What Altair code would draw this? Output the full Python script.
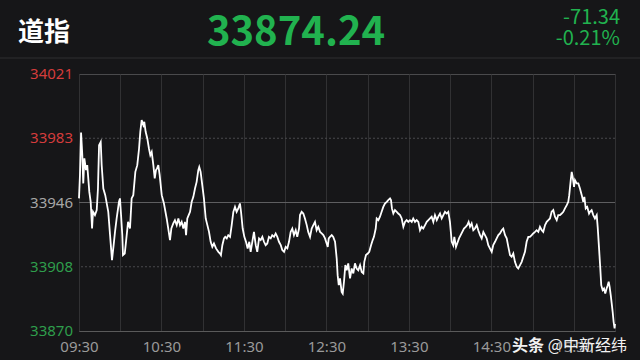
import altair as alt
import pandas as pd

# ---- data ----
prev_close = 33945.58
last_price = "33874.24"
change_pts = "-71.34"
change_pct = "-0.21%"

minutes_a = [0, 0.7, 1.5, 2.4, 3.1, 3.9, 5.1, 6.0, 7.5, 8.5,
             9.5, 10.2, 11.6, 12.9, 13.8, 14.6, 15.8, 16.5, 17.7, 19.1,
             21.3, 22.6, 24.0, 25.2, 26.2, 27.4, 29.1, 29.8, 30.6, 31.5,
             32.0, 33.3, 34.2, 35.7, 37.1, 38.3, 39.5, 41.0, 42.4, 43.7,
             44.6, 45.6, 46.8, 47.5, 48.5, 49.7, 50.9, 51.9, 52.9, 54.1,
             55.1, 56.0, 56.8, 57.7, 58.7, 60.2, 61.8, 63.8, 65.3, 66.2,
             67.2, 68.6, 69.8, 71.1, 72.3, 73.5, 74.7, 75.9, 77.1, 77.9,
             78.8, 79.8, 80.8, 82.0, 83.2, 84.4, 85.6, 86.8, 87.5, 88.5,
             89.7, 90.9, 92.2, 93.4, 94.6, 95.8, 97.0, 98.2, 99.7, 101.4,
             102.6]
values_a = [33948.0, 33961.7, 33986.7, 33973.4, 33956.8, 33971.5, 33964.6, 33967.5, 33951.8, 33946.0,
            33930.3, 33940.1, 33938.2, 33941.1, 33953.8, 33979.3, 33981.2, 33967.5, 33953.8, 33949.9,
            33940.1, 33926.4, 33911.7, 33920.5, 33928.3, 33936.2, 33946.0, 33948.0, 33938.2, 33926.4,
            33914.7, 33915.6, 33922.5, 33934.2, 33930.3, 33948.0, 33949.9, 33963.6, 33967.5, 33977.3,
            33987.1, 33994.0, 33991.0, 33993.0, 33987.1, 33983.2, 33977.3, 33973.4, 33975.3, 33967.5,
            33959.7, 33964.6, 33965.6, 33967.5, 33961.7, 33949.9, 33945.0, 33936.2, 33928.3, 33923.5,
            33930.3, 33933.3, 33935.2, 33932.3, 33936.2, 33932.3, 33934.2, 33930.3, 33934.2, 33926.4,
            33936.2, 33938.2, 33940.1, 33946.0, 33948.9, 33953.8, 33957.7, 33964.6, 33966.5, 33963.6,
            33955.8, 33948.0, 33936.2, 33932.3, 33928.3, 33922.5, 33919.5, 33921.5, 33918.6, 33916.6,
            33915.6]

minutes_b = [103.3, 104.3, 105.5, 106.4, 107.5, 108.6, 109.9, 111.1, 112.3, 113.5,
             114.7, 115.9, 117.1, 117.9, 119.1, 120.3, 121.5, 122.7, 123.9, 124.9,
             126.1, 127.3, 128.6, 129.7, 131.0, 132.2, 133.4, 134.6, 135.8, 137.0,
             138.2, 139.5, 140.6, 141.9, 143.1, 144.3, 145.5, 146.8, 147.9, 149.2,
             150.4, 151.6, 152.8, 154.0, 155.2, 156.4, 157.7, 158.8, 160.1, 160.8,
             162.0, 163.2, 164.4, 165.7, 166.8, 168.1, 169.3, 170.5, 171.7, 172.9,
             174.1, 175.4, 176.6, 177.8, 179.0, 180.2, 181.0, 181.7, 182.6, 183.9,
             185.0, 186.3, 187.5, 188.2, 189.0, 189.9, 191.1, 191.9, 192.8, 193.8,
             194.8, 195.9, 197.2, 198.4, 199.6, 200.8, 202.0, 203.2, 204.5, 205.7,
             206.9, 207.6, 208.8, 210.1, 211.2, 212.5, 213.7, 214.6, 215.9, 216.6,
             217.8, 219.0, 220.2, 221.4, 222.6, 223.9, 225.0, 226.3, 227.0, 227.7,
             228.7, 229.9, 231.2, 232.3, 233.6, 234.8, 236.0, 237.2, 238.4, 239.6,
             240.8, 242.1, 243.2, 244.5, 245.7, 246.9]
values_b = [33914.7, 33920.5, 33924.5, 33925.4, 33924.5, 33926.4, 33925.4, 33932.3, 33940.1, 33943.0,
            33940.1, 33942.1, 33945.0, 33940.1, 33930.3, 33925.4, 33922.5, 33918.6, 33922.5, 33916.6,
            33922.5, 33928.3, 33920.5, 33916.6, 33924.5, 33923.5, 33925.4, 33922.5, 33920.5, 33921.5,
            33925.4, 33924.5, 33926.4, 33925.4, 33927.4, 33925.4, 33922.5, 33920.5, 33917.6, 33916.6,
            33919.5, 33918.6, 33922.5, 33928.3, 33930.3, 33926.4, 33929.3, 33925.4, 33930.3, 33938.2,
            33940.1, 33939.1, 33936.2, 33932.3, 33928.3, 33925.4, 33930.3, 33932.3, 33934.2, 33929.3,
            33931.3, 33928.3, 33927.4, 33926.4, 33924.5, 33921.5, 33919.5, 33924.5, 33925.4, 33926.4,
            33925.4, 33922.5, 33912.7, 33902.9, 33897.0, 33901.0, 33893.1, 33892.1, 33899.0, 33908.8,
            33905.8, 33909.8, 33901.0, 33906.8, 33903.9, 33909.8, 33906.8, 33905.8, 33908.8, 33904.8,
            33903.9, 33910.7, 33914.7, 33915.6, 33916.6, 33920.5, 33923.5, 33925.4, 33930.3, 33936.2,
            33935.2, 33937.2, 33940.1, 33943.0, 33945.0, 33946.0, 33947.0, 33948.0, 33947.0, 33942.1,
            33939.1, 33941.1, 33940.1, 33939.1, 33938.2, 33936.2, 33931.3, 33934.2, 33935.2, 33934.2,
            33935.2, 33934.2, 33936.2, 33934.2, 33935.2, 33934.2]

minutes_c = [248.1, 249.3, 250.5, 251.8, 253.0, 254.2, 255.4, 256.6, 257.8, 259.0,
             260.3, 261.4, 262.7, 263.9, 265.1, 266.3, 267.5, 268.7, 269.9, 271.2,
             272.3, 273.1, 274.3, 275.2, 276.5, 277.7, 278.9, 280.1, 281.4, 282.5,
             283.5, 284.5, 285.7, 286.9, 288.1, 289.4, 290.5, 291.8, 293.0, 294.2,
             295.4, 296.6, 297.8, 299.0, 300.3, 301.4, 302.7, 303.9, 305.1, 306.3,
             307.6, 308.7, 310.0, 311.2, 312.4, 313.6, 314.8, 316.0, 317.2, 318.5,
             319.6, 320.9, 322.1, 323.3, 324.5, 325.7, 326.9, 328.1, 329.4, 330.5,
             331.8, 333.0, 334.2, 335.4, 336.7, 337.8, 339.1, 340.3, 341.5, 342.7,
             343.9, 345.1, 346.3, 347.6, 348.7, 350.0, 351.2, 352.4, 353.6, 354.9,
             356.0, 356.7, 357.8, 358.5, 359.2, 360.2, 360.9, 362.1, 363.3, 364.5,
             365.8, 366.9, 367.7, 368.7, 369.8, 371.1, 371.8, 373.0, 374.2, 375.4,
             376.7, 377.4, 378.4, 379.3, 380.0, 381.0, 382.0, 382.9, 383.9, 384.7,
             385.4, 386.1, 386.9, 387.6, 388.3, 389.0, 389.7, 390]
values_c = [33929.3, 33931.3, 33930.3, 33932.3, 33934.2, 33935.2, 33936.2, 33937.2, 33934.2, 33938.2,
            33935.2, 33937.2, 33939.1, 33936.2, 33938.2, 33940.1, 33939.1, 33940.1, 33934.2, 33922.5,
            33920.5, 33925.4, 33919.5, 33921.5, 33924.5, 33926.4, 33928.3, 33930.3, 33931.3, 33932.3,
            33934.2, 33931.3, 33933.3, 33929.3, 33930.3, 33932.3, 33929.3, 33926.4, 33924.5, 33928.3,
            33926.4, 33924.5, 33920.5, 33918.6, 33916.6, 33920.5, 33922.5, 33924.5, 33926.4, 33927.4,
            33929.3, 33930.3, 33926.4, 33924.5, 33919.5, 33914.7, 33913.7, 33915.6, 33910.7, 33907.8,
            33906.8, 33908.8, 33910.7, 33913.7, 33916.6, 33922.5, 33925.4, 33925.4, 33926.4, 33927.4,
            33928.3, 33929.3, 33928.3, 33931.3, 33929.3, 33928.3, 33932.3, 33934.2, 33935.2, 33936.2,
            33940.1, 33941.1, 33937.2, 33935.2, 33938.2, 33938.2, 33939.1, 33940.1, 33942.1, 33944.0,
            33946.0, 33949.9, 33958.7, 33963.6, 33960.7, 33954.8, 33958.7, 33956.8, 33956.8, 33953.8,
            33949.9, 33946.0, 33948.9, 33942.1, 33943.0, 33939.1, 33940.1, 33941.1, 33938.2, 33936.2,
            33938.2, 33931.3, 33918.6, 33906.8, 33897.0, 33894.1, 33895.1, 33892.1, 33895.1, 33897.0,
            33899.0, 33896.0, 33891.2, 33886.3, 33881.3, 33875.5, 33871.6, 33874.24]

y_ticks = [33870.08, 33907.83, 33945.58, 33983.33, 34021.08]
y_tick_labels = ["33870", "33908", "33946", "33983", "34021"]
y_tick_colors = ["#2f9e4c", "#2f9e4c", "#a6a6a6", "#d43c3c", "#d43c3c"]

x_grid_minutes = [0, 30, 60, 90, 120, 150, 180, 210, 240, 270, 300, 330, 360, 390]
x_label_minutes = [0, 60, 120, 180, 240, 300, 360]
x_labels = ["09:30", "10:30", "11:30", "12:30", "13:30", "14:30", "15:30"]

# ---- build ----
minutes = minutes_a + minutes_b + minutes_c
values = values_a + values_b + values_c
pairs = list(zip(minutes, values))
df = pd.DataFrame(pairs, columns=["t", "v"])

W, H = 536, 257
BG = "#161618"
FONT = "Noto Sans"
CJK = "Noto Sans CJK SC"
GREEN = "#21b24f"

yscale = alt.Scale(domain=[y_ticks[0], y_ticks[-1]], nice=False, zero=False)
xscale = alt.Scale(domain=[0, 390], nice=False)

label_map = "{" + ",".join(f"'{m}':'{l}'" for m, l in zip(x_label_minutes, x_labels)) + "}"
xaxis = alt.Axis(values=x_grid_minutes, labelExpr=f"{label_map}[''+datum.value] || ''",
                 grid=True, gridColor="#313133", gridWidth=1, ticks=False,
                 domainColor="#5a5a5a", labelColor="#9a9a9a", labelFontSize=15,
                 labelFont=FONT, labelPadding=8, labelFlush=False, labelOverlap=False,
                 title=None)

line = alt.Chart(df).mark_line(color="#ffffff", strokeWidth=1.8, interpolate="linear").encode(
    x=alt.X("t:Q", scale=xscale, axis=xaxis),
    y=alt.Y("v:Q", scale=yscale, axis=None),
)

ydf = pd.DataFrame({"v": y_ticks, "lab": y_tick_labels, "col": y_tick_colors})
inner = ydf.iloc[[1, 3]]
mid = ydf.iloc[[2]]

dotted = alt.Chart(inner).mark_rule(color="#4a4a4c", strokeDash=[2, 2], strokeWidth=1).encode(
    y=alt.Y("v:Q", scale=yscale, axis=None))
midline = alt.Chart(mid).mark_rule(color="#5e5e60", strokeWidth=1).encode(
    y=alt.Y("v:Q", scale=yscale, axis=None))

ylabels = alt.Chart(ydf).mark_text(align="right", baseline="middle", fontSize=15, font=FONT).encode(
    y=alt.Y("v:Q", scale=yscale, axis=None),
    x=alt.value(-6),
    text="lab:N",
    color=alt.Color("col:N", scale=None),
)

def label(txt, x, y, size, color, align="left", weight="normal", font=CJK):
    return alt.Chart(pd.DataFrame({"s": [txt]})).mark_text(
        align=align, baseline="alphabetic", fontSize=size, fontWeight=weight,
        font=font, color=color).encode(text="s:N", x=alt.value(x), y=alt.value(y))

sep = alt.Chart(pd.DataFrame({"a": [0]})).mark_rule(color="#2e2e30", strokeWidth=1).encode(
    x=alt.value(-79), x2=alt.value(561), y=alt.value(-16))

header = [
    label("道指", -61, -33, 26, "#ffffff", weight="bold"),
    label(last_price, 217, -29, 40, GREEN, align="center", weight="bold"),
    label(change_pts, 541, -50, 20, GREEN, align="right"),
    label(change_pct, 541, -29, 20, GREEN, align="right"),
    label("头条", 433, 277, 16, "#f2f2f2", weight="bold"),
    label("@中新经纬", 548, 277, 16, "#f2f2f2", align="right"),
]

chart = alt.layer(sep, dotted, midline, line, ylabels, *header).properties(
    width=W, height=H,
    padding={"left": 79, "top": 74, "right": 25, "bottom": 29},
    autosize=alt.AutoSizeParams(type="none"),
    background=BG,
).configure_view(stroke="#4a4a4c", strokeWidth=1)

chart.save("out.html", embed_options={"renderer": "svg", "actions": False})
